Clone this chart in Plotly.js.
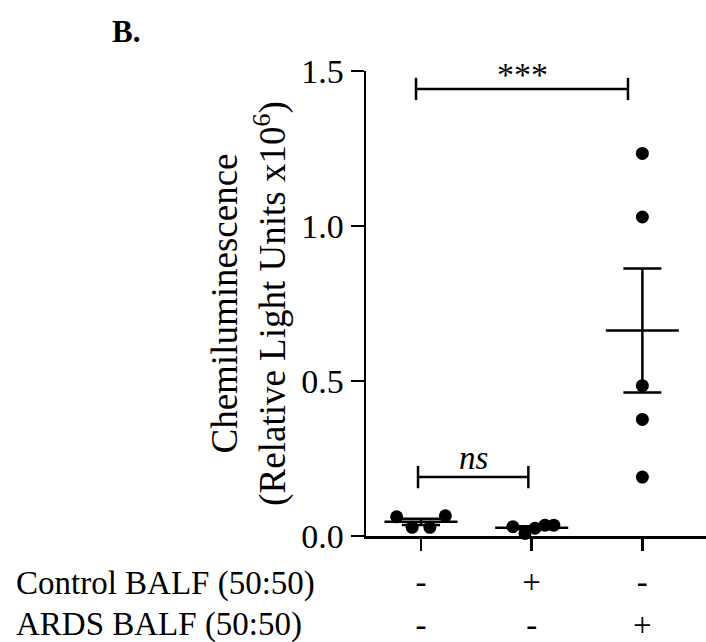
<!DOCTYPE html>
<html><head><meta charset="utf-8">
<script src="https://cdn.plot.ly/plotly-3.0.1.min.js"></script>
<style>html,body{margin:0;padding:0;background:#fff}</style>
</head><body>
<div id="chart" style="width:706px;height:642px"></div>
<script>
// ---- data ----
const groupPositions = [0, 1, 2];
const controlBALF = ['-', '+', '-'];
const ardsBALF = ['-', '-', '+'];
const rowLabels = ['Control BALF (50:50)', 'ARDS BALF (50:50)'];
const groupNone = [0.062, 0.028, 0.028, 0.065];
const groupControl = [0.030, 0.008, 0.025, 0.035, 0.035];
const groupARDS = [1.234, 1.029, 0.485, 0.376, 0.190];
const comparisonFrom = [0, 0];
const comparisonTo = [2, 1];
const comparisonLabels = ['***', '<i>ns</i>'];
const yTickVals = [0, 0.5, 1.0, 1.5];

// ---- presentation ----
const swarmOffsets = [[-0.22, -0.08, 0.08, 0.22], [-0.17, -0.06, 0.03, 0.12, 0.2], [0, 0, 0, 0, 0]];
const bracketY = [1.442, 0.19];
const bracketInset = [[-0.045, -0.13], [-0.027, -0.03]];
const FONT = 'Liberation Serif, Times New Roman, serif';
const PLOT_H = 465, PLOT_W = 340, MARGIN_L = 366;

const groups = [groupNone, groupControl, groupARDS];
const mean = a => a.reduce((s, v) => s + v, 0) / a.length;
const sem = a => { const m = mean(a); return Math.sqrt(a.reduce((s, v) => s + (v - m) ** 2, 0) / (a.length - 1)) / Math.sqrt(a.length); };

const traces = [];
groups.forEach((g, i) => {
  traces.push({
    type: 'scatter', mode: 'markers', cliponaxis: false, showlegend: false, hoverinfo: 'skip',
    x: g.map((v, j) => groupPositions[i] + swarmOffsets[i][j]), y: g,
    marker: { color: 'black', size: 13 }
  });
});
traces.push({
  type: 'scatter', mode: 'markers', cliponaxis: false, showlegend: false, hoverinfo: 'skip',
  x: groupPositions, y: groups.map(mean),
  marker: { color: 'rgba(0,0,0,0)', size: 1 },
  error_y: { type: 'data', array: groups.map(sem), visible: true, color: 'black', thickness: 2.5, width: 19 },
  error_x: { type: 'data', array: [0.33, 0.33, 0.33], visible: true, color: 'black', thickness: 2.5, width: 0 }
});

const shapes = [];
const annotations = [];
comparisonFrom.forEach((f, k) => {
  const x0 = groupPositions[f] + bracketInset[k][0];
  const x1 = groupPositions[comparisonTo[k]] + bracketInset[k][1];
  const y = bracketY[k], c = 0.036;
  const ln = { color: 'black', width: 2.5 };
  shapes.push({ type: 'line', xref: 'x', yref: 'y', x0, x1, y0: y, y1: y, line: ln });
  shapes.push({ type: 'line', xref: 'x', yref: 'y', x0, x1: x0, y0: y - c, y1: y + c, line: ln });
  shapes.push({ type: 'line', xref: 'x', yref: 'y', x0: x1, x1, y0: y - c, y1: y + c, line: ln });
  annotations.push({ xref: 'x', yref: 'y', x: (x0 + x1) / 2, y, yanchor: 'bottom', yshift: k === 0 ? -6 : -1, showarrow: false,
    text: comparisonLabels[k], font: { family: FONT, size: k === 0 ? 34 : 33, color: 'black' } });
});
const rowCentersPx = [583, 624];
rowLabels.forEach((t, r) => {
  annotations.push({ xref: 'paper', yref: 'paper', x: (14 - MARGIN_L) / PLOT_W, xanchor: 'left',
    y: -(rowCentersPx[r] - 536) / PLOT_H, yanchor: 'middle',
    showarrow: false, text: t, font: { family: FONT, size: 33, color: 'black' } });
});
annotations.push({ xref: 'paper', yref: 'paper', x: (110 - MARGIN_L) / PLOT_W, xanchor: 'left', y: 1 + 39 / PLOT_H, yanchor: 'middle',
  showarrow: false, text: '<b>B.</b>', font: { family: FONT, size: 31, color: 'black' } });

const layout = {
  width: 706, height: 642,
  margin: { l: MARGIN_L, r: 0, t: 71, b: 106 },
  paper_bgcolor: 'white', plot_bgcolor: 'white',
  font: { family: FONT, color: 'black', size: 33 },
  showlegend: false,
  xaxis: {
    range: [-0.497, 2.575], showgrid: false, zeroline: false,
    showline: true, linecolor: 'black', linewidth: 2.5,
    ticks: 'outside', ticklen: 12, tickwidth: 2.5, tickcolor: 'black',
    tickvals: groupPositions,
    ticktext: groupPositions.map((p, i) => controlBALF[i] + '<br>' + ardsBALF[i]),
    tickfont: { family: FONT, size: 33, color: 'black' },
    ticklabelstandoff: 3
  },
  yaxis: {
    range: [0, 1.5], showgrid: false, zeroline: false,
    showline: true, linecolor: 'black', linewidth: 2.5,
    ticks: 'outside', ticklen: 13, tickwidth: 2.5, tickcolor: 'black',
    tickvals: yTickVals, tickformat: '.1f',
    tickfont: { family: FONT, size: 34, color: 'black' },
    title: { text: 'Chemiluminescence<br>(Relative Light Units x10<sup>6</sup>)', font: { family: FONT, size: 37, color: 'black' }, standoff: 4 }
  },
  shapes, annotations
};
Plotly.newPlot('chart', traces, layout, { displayModeBar: false, staticPlot: true });
</script>
</body></html>
